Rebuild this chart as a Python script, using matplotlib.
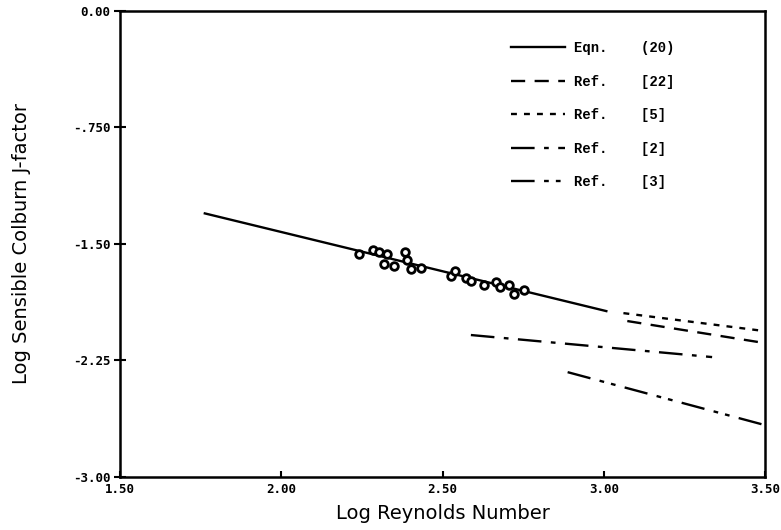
import matplotlib
matplotlib.use("Agg")
import matplotlib.pyplot as plt
import numpy as np

# Data
data_x = [2.242, 2.285, 2.304, 2.328, 2.319, 2.350, 2.384, 2.390, 2.403, 2.434,
          2.526, 2.539, 2.573, 2.588, 2.628, 2.665, 2.678, 2.706, 2.721, 2.752]
data_y = [-1.565, -1.539, -1.552, -1.565, -1.629, -1.642, -1.552, -1.603, -1.661, -1.655,
          -1.706, -1.674, -1.719, -1.739, -1.764, -1.745, -1.777, -1.764, -1.822, -1.797]

eqn20_x = [1.763, 3.008]
eqn20_y = [-1.303, -1.932]
ref22_x = [3.073, 3.50]
ref22_y = [-1.996, -2.138]
ref5_x = [3.061, 3.50]
ref5_y = [-1.945, -2.061]
ref2_x = [2.588, 3.336]
ref2_y = [-2.086, -2.228]
ref3_x = [2.888, 3.50]
ref3_y = [-2.325, -2.666]

legend_labels = ["Eqn.    (20)", "Ref.    [22]", "Ref.    [5]", "Ref.    [2]", "Ref.    [3]"]

x_ticks = [1.5, 2.0, 2.5, 3.0, 3.5]
x_ticklabels = ["1.50", "2.00", "2.50", "3.00", "3.50"]
y_ticks = [0.0, -0.75, -1.5, -2.25, -3.0]
y_ticklabels = ["0.00", "-.750", "-1.50", "-2.25", "-3.00"]

fig = plt.figure(figsize=(7.81, 5.30), dpi=100)
ax = fig.add_axes([120/781, 1 - 477/530, (765 - 120)/781, (477 - 11)/530])

lw = 1.7
h1, = ax.plot(eqn20_x, eqn20_y, color="black", lw=lw, linestyle="-")
h2, = ax.plot(ref22_x, ref22_y, color="black", lw=lw, linestyle=(0, (6, 4)))
h3, = ax.plot(ref5_x, ref5_y, color="black", lw=lw, linestyle=(0, (2.5, 3)))
h4, = ax.plot(ref2_x, ref2_y, color="black", lw=lw, linestyle=(0, (10, 4, 2, 4)))
h5, = ax.plot(ref3_x, ref3_y, color="black", lw=lw, linestyle=(0, (10, 4, 2, 3, 2, 4)))
ax.plot(data_x, data_y, linestyle="none", marker="o", markersize=5.5,
        markerfacecolor="white", markeredgecolor="black", markeredgewidth=2.0)

ax.set_xlim(1.5, 3.5)
ax.set_ylim(-3.0, 0.0)
ax.set_xticks(x_ticks)
ax.set_xticklabels(x_ticklabels, fontsize=9, fontweight="bold", family="DejaVu Sans Mono")
ax.set_yticks(y_ticks)
ax.set_yticklabels(y_ticklabels, fontsize=9, fontweight="bold", family="DejaVu Sans Mono")
ax.tick_params(axis="x", direction="in", length=4, width=1.5, pad=4)
ax.tick_params(axis="y", direction="inout", length=8, width=1.5, pad=3)
for s in ax.spines.values():
    s.set_linewidth(1.8)

ax.set_xlabel("Log Reynolds Number", fontsize=14, labelpad=6)
ax.set_ylabel("Log Sensible Colburn J-factor", fontsize=14, labelpad=30)

leg = ax.legend([h1, h2, h3, h4, h5], legend_labels, loc="upper left",
                bbox_to_anchor=(0.587, 0.962), frameon=False,
                prop={"family": "Liberation Mono", "weight": "bold", "size": 10},
                handlelength=3.9, handletextpad=0.6, labelspacing=1.4)

fig.savefig("out.png", dpi=100)
